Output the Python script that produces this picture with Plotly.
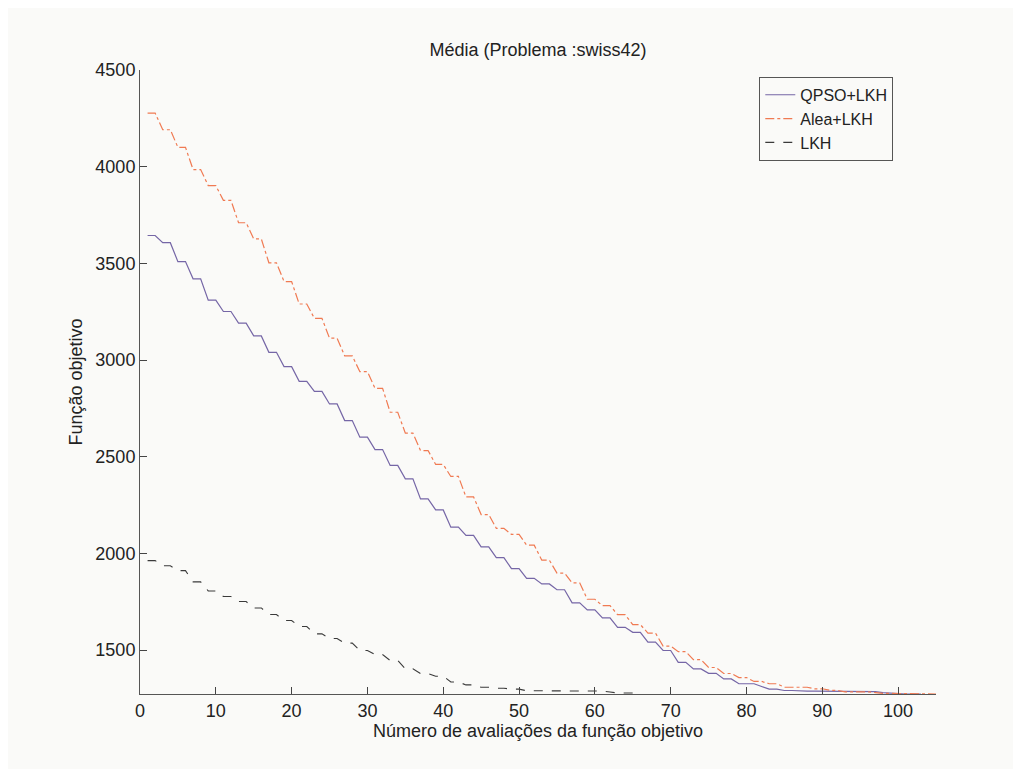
import plotly.graph_objects as go

# Data (value at each integer evaluation count)
qpso_steps = [3644, 3607, 3509, 3420, 3310, 3251, 3191, 3125, 3040, 2966,
              2890, 2838, 2773, 2687, 2601, 2537, 2455, 2386, 2282, 2225,
              2136, 2093, 2034, 1978, 1921, 1871, 1842, 1812, 1744, 1708,
              1667, 1618, 1592, 1541, 1498, 1437, 1403, 1380, 1351, 1326]
qpso_tail = [1326, 1312, 1298, 1298, 1291, 1291, 1288, 1288, 1288, 1288,
             1288, 1288, 1288, 1288, 1288, 1288, 1285, 1280, 1277, 1275,
             1273, 1273, 1273]

alea_steps = [4277, 4191, 4100, 3985, 3902, 3826, 3710, 3627, 3503, 3406,
              3290, 3216, 3113, 3022, 2940, 2854, 2730, 2622, 2532, 2460,
              2398, 2292, 2201, 2130, 2098, 2043, 1965, 1898, 1848, 1763,
              1730, 1683, 1632, 1588, 1521, 1492, 1451, 1410, 1379, 1358,
              1338, 1326]
alea_tail = [1308, 1308, 1308, 1308, 1300, 1300, 1292, 1292, 1284, 1284,
             1284, 1284, 1280, 1276, 1276, 1276, 1273, 1273, 1273, 1273, 1273]

lkh_steps = [1963, 1936, 1911, 1853, 1806, 1777, 1751, 1718, 1684, 1653,
             1622, 1584, 1560, 1536, 1498, 1477, 1446, 1403, 1379, 1365,
             1335, 1320, 1308, 1303, 1298]
lkh_tail = [1290, 1290, 1290, 1290, 1288, 1288, 1288, 1288, 1288, 1288,
            1288, 1283, 1278, 1278, 1278, 1278]

qpso = [v for v in qpso_steps for _ in range(2)] + qpso_tail
alea = [v for v in alea_steps for _ in range(2)] + alea_tail
lkh = [v for v in lkh_steps for _ in range(2)] + lkh_tail

x_qpso = list(range(1, len(qpso) + 1))
x_alea = list(range(1, len(alea) + 1))
x_lkh = list(range(1, len(lkh) + 1))

x_ticks = list(range(0, 101, 10))
y_ticks = [1500, 2000, 2500, 3000, 3500, 4000, 4500]

bg = "#fafaf8"
font = "Liberation Sans, Arial, sans-serif"
fs = 18

fig = go.Figure()
fig.add_trace(go.Scatter(x=x_qpso, y=qpso, mode="lines", name="QPSO+LKH",
                         line=dict(color="#7566a6", width=1.2)))
fig.add_trace(go.Scatter(x=x_alea, y=alea, mode="lines", name="Alea+LKH",
                         line=dict(color="#f07a52", width=1.2, dash="dashdot")))
fig.add_trace(go.Scatter(x=x_lkh, y=lkh, mode="lines", name="LKH",
                         line=dict(color="#3a3a3a", width=1.1, dash="dash")))

fig.update_layout(
    width=1013, height=761,
    paper_bgcolor=bg, plot_bgcolor=bg,
    margin=dict(l=132, r=85, t=62, b=75),
    font=dict(family=font, size=fs, color="#222222"),
    title=dict(text="Média (Problema :swiss42)", x=0.5, xref="paper",
               y=1 - 42 / 761, yanchor="middle",
               font=dict(family=font, size=fs, color="#222222")),
    showlegend=True,
    legend=dict(x=0.778, y=0.989, xanchor="left", yanchor="top",
                bgcolor=bg, bordercolor="#555555", borderwidth=1,
                font=dict(family=font, size=16, color="#222222"),
                tracegroupgap=0, itemwidth=30,
                entrywidth=128, entrywidthmode="pixels"),
    xaxis=dict(range=[0, 105], tickvals=x_ticks, ticks="inside", ticklen=7,
               tickcolor="#444444", showgrid=False, zeroline=False,
               showline=True, linecolor="#555555", linewidth=1,
               title=dict(text="Número de avaliações da função objetivo",
                          standoff=3, font=dict(size=fs)),
               tickfont=dict(size=fs)),
    yaxis=dict(range=[1273, 4500], tickvals=y_ticks, ticks="inside", ticklen=7,
               tickcolor="#444444", showgrid=False, zeroline=False,
               showline=True, linecolor="#555555", linewidth=1,
               title=dict(text="Função objetivo", standoff=8,
                          font=dict(size=fs)),
               tickfont=dict(size=fs)),
)

fig.write_html("out.html")
